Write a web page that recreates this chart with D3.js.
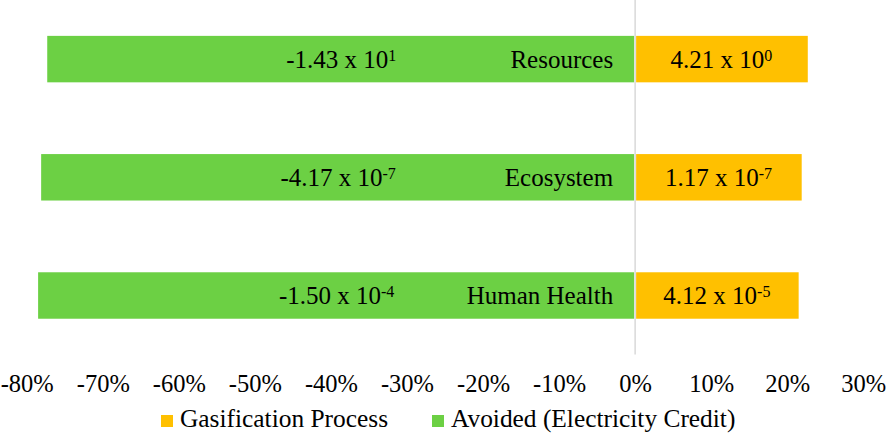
<!DOCTYPE html>
<html><head><meta charset="utf-8">
<script src="https://cdn.jsdelivr.net/npm/d3@7/dist/d3.min.js"></script>
<style>
html,body{margin:0;padding:0;background:#fff;}
svg{display:block;font-family:"Liberation Serif","Times New Roman",serif;}
</style></head>
<body>
<svg id="chart" width="886" height="434"></svg>
<script>
const categories = ["Resources", "Ecosystem", "Human Health"];
const gasification = [22.7, 21.9, 21.5];
const avoided = [-77.3, -78.1, -78.5];
const gasMantissa = ["4.21", "1.17", "4.12"];
const gasExponent = ["0", "-7", "-5"];
const avoidedMantissa = ["-1.43", "-4.17", "-1.50"];
const avoidedExponent = ["1", "-7", "-4"];
const tickValues = [-80, -70, -60, -50, -40, -30, -20, -10, 0, 10, 20, 30];
const seriesNames = ["Gasification Process", "Avoided (Electricity Credit)"];
const colors = {gas: "#ffc000", avoided: "#6cd044"};

const svg = d3.select("#chart");
const x = d3.scaleLinear().domain([-80, 30]).range([26.7, 863.3]);
const y = d3.scaleBand().domain(categories).range([0, 354.6]).paddingInner(0.607).paddingOuter(0.3035);

const rows = categories.map((c, i) => ({c, g: gasification[i], a: avoided[i],
  gm: gasMantissa[i], ge: gasExponent[i], am: avoidedMantissa[i], ae: avoidedExponent[i]}));

// bars
svg.append("g").selectAll("rect.av").data(rows).join("rect")
  .attr("x", d => x(d.a)).attr("width", d => x(0) - x(d.a) - 1)
  .attr("y", d => y(d.c)).attr("height", y.bandwidth())
  .attr("fill", colors.avoided);
svg.append("g").selectAll("rect.gs").data(rows).join("rect")
  .attr("x", x(0) + 1).attr("width", d => x(d.g) - x(0) - 1)
  .attr("y", d => y(d.c)).attr("height", y.bandwidth())
  .attr("fill", colors.gas);

// zero line
svg.append("line").attr("x1", x(0)).attr("x2", x(0)).attr("y1", 0).attr("y2", 354.6)
  .attr("stroke", "#d9d9d9").attr("stroke-width", 1.5);

// value labels
function sciLabel(g, cx, cy, m, e) {
  const t = g.append("text").attr("x", cx).attr("y", cy).attr("dy", "0.34em")
    .attr("text-anchor", "middle").attr("font-size", 25).attr("fill", "#000");
  t.append("tspan").text(m + " x 10");
  t.append("tspan").attr("font-size", 16).attr("dy", "-0.44em").text(e);
}
const lbl = svg.append("g");
rows.forEach(d => {
  const cy = y(d.c) + y.bandwidth() / 2;
  sciLabel(lbl, (x(d.a) + x(0)) / 2, cy, d.am, d.ae);
  sciLabel(lbl, (x(d.g) + x(0)) / 2, cy, d.gm, d.ge);
  lbl.append("text").attr("x", x(0) - 22).attr("y", cy).attr("dy", "0.34em")
    .attr("text-anchor", "end").attr("font-size", 25).attr("fill", "#000").text(d.c);
});

// x axis
const axis = d3.axisBottom(x).tickValues(tickValues).tickSize(0).tickFormat(d => d + "%");
const ax = svg.append("g").attr("transform", "translate(0,392)").call(axis);
ax.select(".domain").remove();
ax.selectAll("text").attr("y", 0).attr("dy", 0).attr("font-size", 24.5)
  .attr("font-family", "Liberation Serif").attr("fill", "#000");

// legend
const leg = svg.append("g");
const legItems = [
  {name: seriesNames[0], color: colors.gas, x: 161},
  {name: seriesNames[1], color: colors.avoided, x: 432}
];
legItems.forEach(it => {
  leg.append("rect").attr("x", it.x).attr("y", 415).attr("width", 12).attr("height", 12).attr("fill", it.color);
  leg.append("text").attr("x", it.x + 19).attr("y", 427).attr("font-size", 25.4).attr("fill", "#000").text(it.name);
});
</script>
</body></html>
